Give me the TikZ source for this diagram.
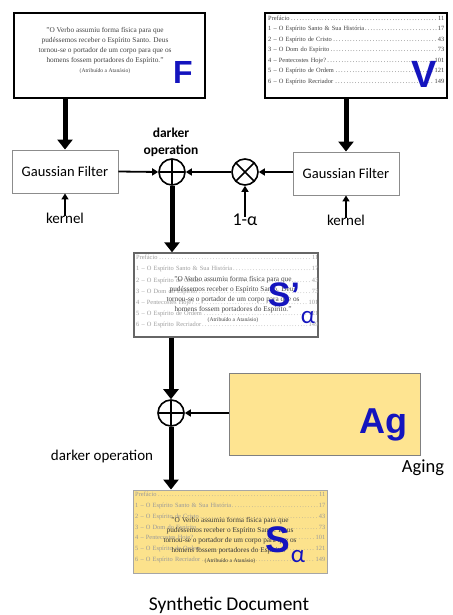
\documentclass[tikz,border=0pt]{standalone}
\usepackage{fontspec}
\setmainfont{Liberation Serif}
\newfontfamily\calib{Carlito}
\newfontfamily\arialf{Liberation Sans}
\usetikzlibrary{arrows.meta}
\definecolor{docblue}{RGB}{20,20,190}
\definecolor{agyellow}{RGB}{254,228,145}
\definecolor{syellow}{RGB}{252,226,140}
\newcommand{\toctext}{Prefácio\dotfill 11\\
1 – O Espírito Santo \& Sua História\dotfill 17\\
2 – O Espírito de Cristo\dotfill 43\\
3 – O Dom do Espírito\dotfill 73\\
4 – Pentecostes Hoje?\dotfill 101\\
5 – O Espírito de Ordem\dotfill 121\\
6 – O Espírito Recriador\dotfill 149}
\newcommand{\quotetext}{"O Verbo assumiu forma física para que\\
pudéssemos receber o Espírito Santo. Deus\\
tornou-se o portador de um corpo para que os\\
homens fossem portadores do Espírito."\\
{\fontsize{5.6}{10}\selectfont (Atribuído a Atanásio)}}
\begin{document}
\begin{tikzpicture}[x=1pt,y=-1pt,
  docbox/.style={draw=black,line width=1.6pt,inner sep=0pt},
  gfbox/.style={draw=black!45,line width=0.9pt,inner sep=0pt,minimum width=106pt,minimum height=43pt,font=\calib\fontsize{14.5}{16}\selectfont},
  toc/.style={inner sep=0pt,anchor=north west,align=left},
  quote/.style={inner sep=0pt,align=center,font=\fontsize{7.3}{10}\selectfont},
  bigletter/.style={inner sep=0pt,text=docblue,font=\arialf\bfseries},
  lbl/.style={inner sep=0pt,font=\calib\fontsize{15}{18}\selectfont},
  opl/.style={circle,draw,line width=1.6pt,minimum size=26pt,inner sep=0pt,
    path picture={\draw[line width=1.6pt] (path picture bounding box.north) -- (path picture bounding box.south)
      (path picture bounding box.west) -- (path picture bounding box.east);}},
  otm/.style={circle,draw,line width=1.6pt,minimum size=26pt,inner sep=0pt,
    path picture={\draw[line width=1.6pt] (path picture bounding box.north west) -- (path picture bounding box.south east)
      (path picture bounding box.north east) -- (path picture bounding box.south west);}},
  thick arrow/.style={line width=5pt,-{Triangle[width=15pt,length=10pt]}},
  thin arrow/.style={line width=1.8pt,-{Triangle[width=7pt,length=6pt]}},
  small arrow/.style={line width=1.8pt,-{Triangle[width=7pt,length=6pt]}}
]
\useasboundingbox (0,0) rectangle (452,615);

% F box
\node[docbox,minimum width=191pt,minimum height=85pt] (fbox) at (109.5,55.5) {};
\node[quote,text=black!75] (fquote) at (105,51) {\quotetext};
\node[bigletter,font=\arialf\bfseries\fontsize{32}{32}\selectfont] (fl) at (183,72) {F};

% V box
\node[docbox,minimum width=182pt,minimum height=85pt] (vbox) at (356,55.5) {};
\node[toc,text width=176pt,text=black!75,font=\fontsize{6.4}{10.5}\selectfont] (vtoc) at (268,15.5) {\toctext};
\node[bigletter,font=\arialf\bfseries\fontsize{38}{38}\selectfont] (vl) at (424,74) {V};

% Gaussian filters
\node[gfbox] (gfl) at (65,171.5) {Gaussian Filter};
\node[gfbox] (gfr) at (346,173.5) {Gaussian Filter};
\node[lbl] (kl) at (65,218) {kernel};
\node[lbl] (kr) at (346,220) {kernel};

% operators
\node[opl] (op1) at (172,172) {};
\node[otm] (ot) at (245,172) {};
\node[inner sep=0pt,align=center,font=\calib\bfseries\fontsize{13.5}{17}\selectfont] (dk1) at (171,142) {darker\\operation};
\node[inner sep=0pt,font=\calib\fontsize{18}{20}\selectfont] (alpha) at (245,220) {1-α};

% S' box
\node[draw=black!60,line width=1.3pt,inner sep=0pt,minimum width=184pt,minimum height=84pt,fill=white] (sp) at (226,295) {};
\node[toc,text width=182pt,text=black!38,font=\fontsize{6.4}{11.2}\selectfont] (sptoc) at (136,255) {\toctext};
\node[quote,text=black!72] (spquote) at (233,300) {\quotetext};
\node[bigletter,font=\arialf\bfseries\fontsize{34}{34}\selectfont] (spl) at (284,295) {S’};
\node[bigletter,font=\calib\fontsize{25}{25}\selectfont] (spa) at (308,318) {α};

% second operator and aging
\node[opl] (op2) at (171,413) {};
\node[draw=black!50,line width=0.9pt,fill=agyellow,inner sep=0pt,minimum width=191pt,minimum height=82pt] (ag) at (324.5,414) {};
\node[bigletter,font=\arialf\bfseries\fontsize{36}{36}\selectfont] (agl) at (383,425) {Ag};
\node[inner sep=0pt,font=\calib\fontsize{18.5}{20}\selectfont] (aging) at (423,468) {Aging};
\node[lbl] (dk2) at (102,456) {darker operation};

% S box
\node[draw=black!35,line width=0.9pt,fill=syellow,inner sep=0pt,minimum width=194pt,minimum height=83pt] (sbox) at (230,531.5) {};
\node[toc,text width=190pt,text=black!40,font=\fontsize{6.4}{10.8}\selectfont] (stoc) at (135,492) {\toctext};
\node[quote,text=black!78] (squote) at (230,541) {\quotetext};
\node[bigletter,font=\arialf\bfseries\fontsize{37}{37}\selectfont] (sl) at (278,540) {S};
\node[bigletter,font=\calib\fontsize{25}{25}\selectfont] (sa) at (298,557) {α};

\node[inner sep=0pt,font=\calib\fontsize{19.5}{22}\selectfont] (synth) at (229,605) {Synthetic Document};

% connectors
\draw[thick arrow] (gfl.north |- fbox.south) -- (gfl.north);
\draw[thick arrow] (gfr.north |- vbox.south) -- (gfr.north);
\draw[thin arrow] (gfl.east) -- (op1.west);
\draw[thin arrow] (ot.west) -- (op1.east);
\draw[thin arrow] (gfr.west |- ot.east) -- (ot.east);
\draw[small arrow] ([yshift=-3pt]alpha.north) -- (ot.south);
\draw[small arrow] ([yshift=-3pt]kl.north) -- (gfl.south);
\draw[small arrow] ([yshift=-3pt]kr.north) -- (gfr.south);
\draw[thick arrow] (op1.south) -- (op1.south |- sp.north);
\draw[thick arrow] (op2.north |- sp.south) -- (op2.north);
\draw[thin arrow] (ag.west |- op2.east) -- (op2.east);
\draw[thick arrow] (op2.south) -- (op2.south |- sbox.north);
\end{tikzpicture}
\end{document}
